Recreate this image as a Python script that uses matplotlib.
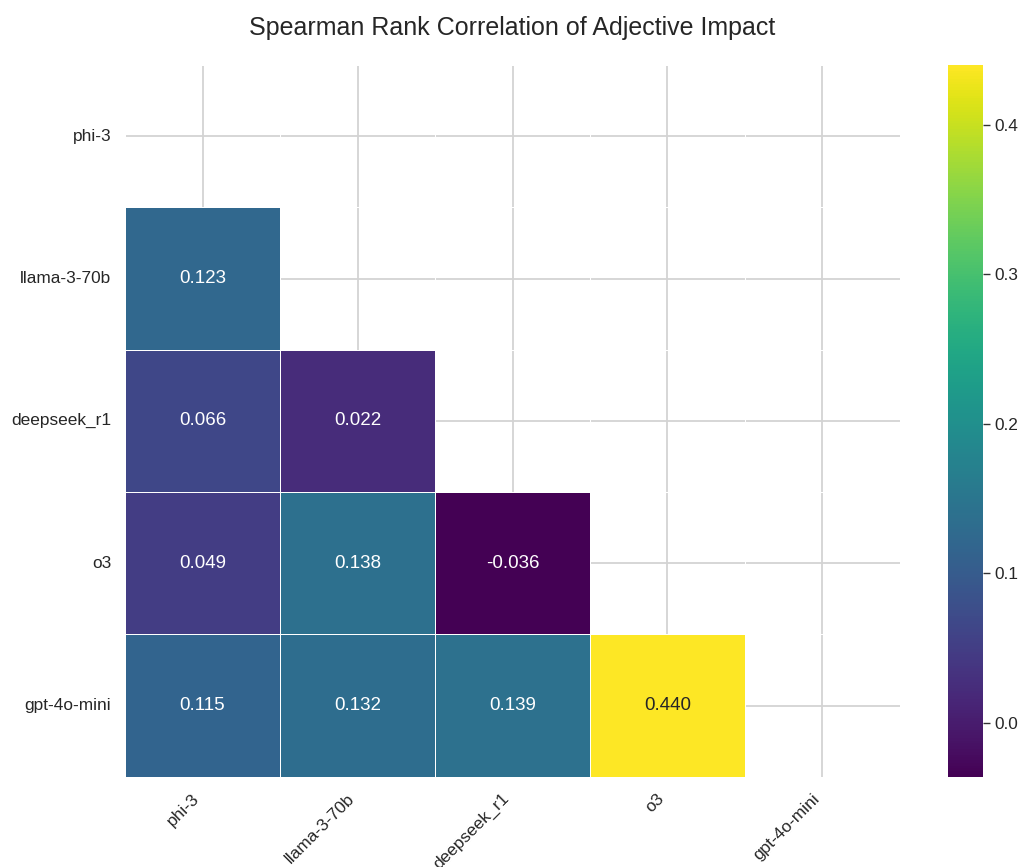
import numpy as np
import matplotlib
matplotlib.use("Agg")
import matplotlib.pyplot as plt
import seaborn as sns

models = ["phi-3", "llama-3-70b", "deepseek_r1", "o3", "gpt-4o-mini"]
row_llama = [0.123]
row_deepseek = [0.066, 0.022]
row_o3 = [0.049, 0.138, -0.036]
row_gpt = [0.115, 0.132, 0.139, 0.440]

n = len(models)
corr = np.eye(n)
for i, row in enumerate([row_llama, row_deepseek, row_o3, row_gpt], start=1):
    for j, v in enumerate(row):
        corr[i, j] = v
        corr[j, i] = v
mask = np.triu(np.ones_like(corr, dtype=bool))

sns.set_theme(style="whitegrid")
plt.rcParams['font.family'] = ['Liberation Sans', 'DejaVu Sans']

fig = plt.figure(figsize=(10.25, 8.67), dpi=100)
ax = fig.add_axes([0.122, 0.104, 0.756, 0.821])
cax = fig.add_axes([0.925, 0.104, 0.034, 0.821])

sns.heatmap(corr, mask=mask, annot=True, fmt=".3f", cmap="viridis",
            vmin=-0.036, vmax=0.44, linewidths=0.5, linecolor="white",
            xticklabels=models, yticklabels=models, ax=ax, cbar_ax=cax,
            annot_kws={"size": 13.5})
ax.grid(True, color="#d3d3d3", linewidth=1.3)
ax.set_axisbelow(True)
for s in ax.spines.values():
    s.set_visible(False)
ax.set_xticklabels(models, rotation=45, ha="right", fontsize=12.4)
ax.set_yticklabels(models, rotation=0, fontsize=12.4)
ax.tick_params(axis="both", length=0, pad=10)
cax.tick_params(labelsize=12.4, length=5, width=1, color="#333333")
cax.yaxis.set_tick_params(which="both", left=False, right=True)
cbar = ax.collections[0].colorbar
cbar.outline.set_visible(False)
fig.text(0.5, 0.968, "Spearman Rank Correlation of Adjective Impact",
         ha="center", va="center", fontsize=18, color="#262626")

fig.savefig("out.png", dpi=100)
